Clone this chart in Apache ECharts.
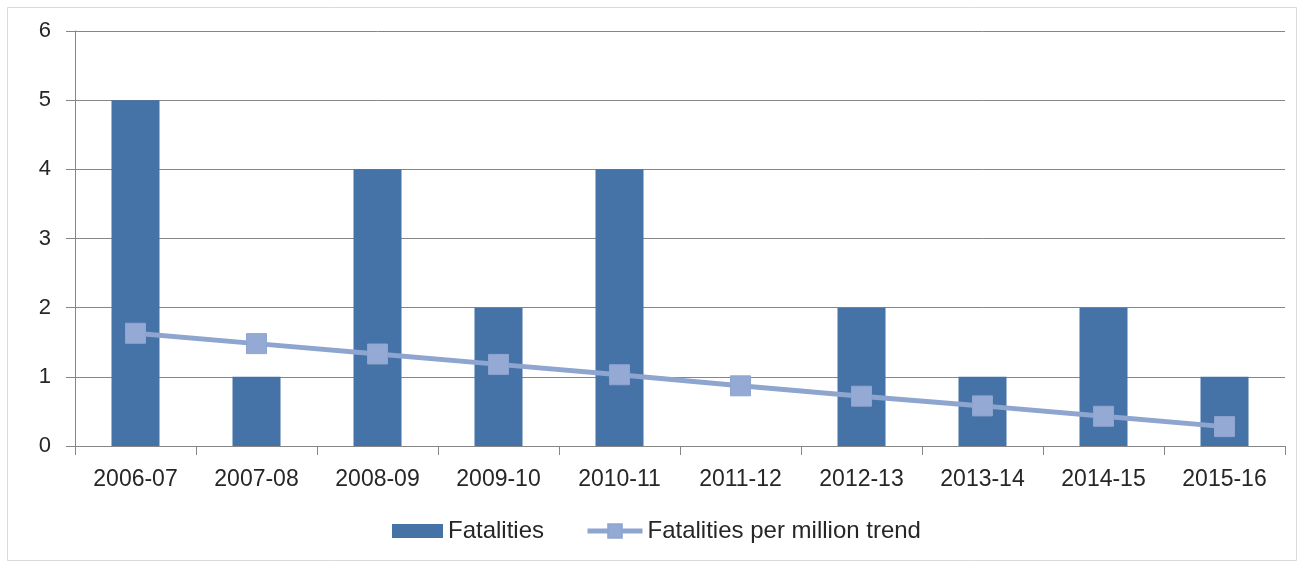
<!DOCTYPE html>
<html><head><meta charset="utf-8">
<script src="https://cdn.jsdelivr.net/npm/echarts@6/dist/echarts.min.js"></script>
<style>html,body{margin:0;padding:0;background:#fff}#c{width:1303px;height:567px}</style>
</head><body><div id="c"></div>
<script>
var categories = ['2006-07','2007-08','2008-09','2009-10','2010-11','2011-12','2012-13','2013-14','2014-15','2015-16'];
var fatalities = [5,1,4,2,4,0,2,1,2,1];
var trend = [1.63,1.48,1.33,1.18,1.03,0.87,0.72,0.58,0.43,0.28];
var yTicks = [0,1,2,3,4,5,6];

var font = '"Liberation Sans", Arial, sans-serif';
var lineColor = '#8ea5d0';
var chart = echarts.init(document.getElementById('c'));
chart.setOption({
  animation:false,
  backgroundColor:'#fff',
  graphic:[{type:'rect',shape:{x:7.5,y:7.5,width:1289,height:553},style:{fill:'none',stroke:'#d9d9d9',lineWidth:1},silent:true,z:-1}],
  grid:{left:75,right:18,top:31,bottom:121,containLabel:false},
  legend:[{
    left:392, top:519, itemWidth:51, itemHeight:14, itemGap:5, padding:0,
    textStyle:{fontFamily:font,fontSize:24,color:'#262626',padding:[0,0,0,0]},
    data:[{name:'Fatalities',icon:'rect'}]
  },{
    left:585, top:519, itemWidth:55, itemHeight:17, padding:0,
    textStyle:{fontFamily:font,fontSize:24,color:'#262626'},
    data:[{name:'Fatalities per million trend',lineStyle:{width:5,color:lineColor}}]
  }],
  xAxis:{
    type:'category', data:categories,
    axisLine:{lineStyle:{color:'#868686',width:1}},
    axisTick:{show:true,length:9,lineStyle:{color:'#868686'}},
    axisLabel:{fontFamily:font,fontSize:23,color:'#262626',margin:22}
  },
  yAxis:{
    type:'value', min:yTicks[0], max:yTicks[yTicks.length-1], interval:1,
    axisLine:{show:true,lineStyle:{color:'#868686',width:1}},
    axisTick:{show:true,length:9,lineStyle:{color:'#868686'}},
    splitLine:{lineStyle:{color:'#868686',width:1}},
    axisLabel:{fontFamily:font,fontSize:22,color:'#262626',margin:24}
  },
  series:[
    {name:'Fatalities',type:'bar',data:fatalities,barWidth:48,itemStyle:{color:'#4572a7'}},
    {name:'Fatalities per million trend',type:'line',data:trend,
     symbol:'rect',symbolSize:20,
     lineStyle:{color:lineColor,width:5},
     itemStyle:{color:'#94aad4',borderColor:lineColor,borderWidth:1}}
  ]
});
</script></body></html>
